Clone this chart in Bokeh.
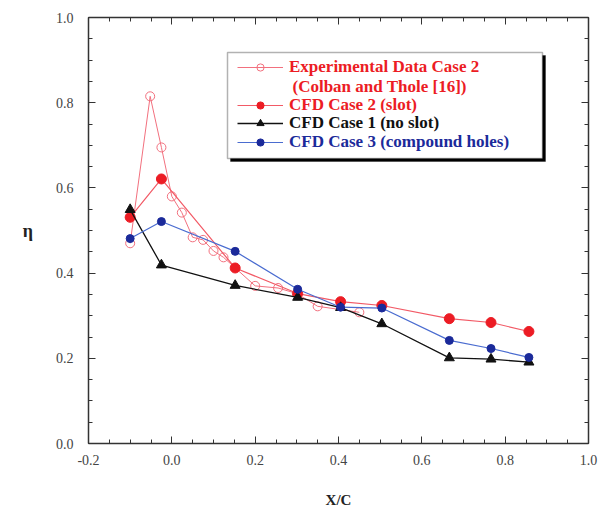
from bokeh.plotting import figure
from bokeh.models import (Range1d, LinearAxis, SingleIntervalTicker, Legend, LegendItem,
                          Label, BoxAnnotation, CustomJSTickFormatter, PrintfTickFormatter)
from bokeh.embed import file_html
from bokeh.resources import INLINE

# Data
exp_x = [-0.1, -0.052, -0.025, 0.0, 0.024, 0.05, 0.075, 0.1, 0.124, 0.2, 0.255, 0.3, 0.35, 0.45]
exp_y = [0.47, 0.815, 0.695, 0.58, 0.542, 0.484, 0.478, 0.452, 0.437, 0.37, 0.365, 0.352, 0.322, 0.308]
cfd_x = [-0.1, -0.025, 0.152, 0.302, 0.405, 0.504, 0.666, 0.766, 0.857]
cfd2_y = [0.531, 0.621, 0.412, 0.352, 0.333, 0.324, 0.293, 0.284, 0.263]
cfd1_y = [0.549, 0.419, 0.371, 0.343, 0.319, 0.281, 0.201, 0.198, 0.191]
cfd3_y = [0.481, 0.521, 0.451, 0.362, 0.320, 0.318, 0.242, 0.223, 0.202]

FONT = "Liberation Serif"
RED = "#ec1c24"
RED_LINE = "#f25a66"
PINK = "#f2707e"
BLACK = "#111111"
BLUE = "#1b2a9a"
BLUE_LINE = "#4a6cd0"

p = figure(width=609, height=512, output_backend="svg", toolbar_location=None,
           x_range=Range1d(-0.2, 1.0), y_range=Range1d(0.0, 1.0),
           min_border_left=88, min_border_right=21, min_border_top=17, min_border_bottom=69,
           x_axis_label="X/C", y_axis_label="η")
p.xgrid.visible = False
p.ygrid.visible = False
p.outline_line_color = None
p.background_fill_color = "white"
p.border_fill_color = "white"

def style_axis(ax, labels=True):
    ax.axis_line_color = "#333333"
    ax.axis_line_width = 1.5
    ax.major_tick_in = 7
    ax.major_tick_out = 0
    ax.minor_tick_in = 4
    ax.minor_tick_out = 0
    ax.major_tick_line_color = "#333333"
    ax.minor_tick_line_color = "#333333"
    ax.major_label_text_font = FONT
    ax.major_label_text_font_size = "14px"
    ax.major_label_text_color = "#444444"
    ax.axis_label_text_font = FONT
    ax.axis_label_text_font_style = "bold"
    ax.axis_label_text_color = "#222222"
    if labels:
        ax.formatter = PrintfTickFormatter(format="%.1f")
    else:
        ax.formatter = CustomJSTickFormatter(code='return ""')
        ax.major_label_standoff = 0

p.xaxis.ticker = SingleIntervalTicker(interval=0.2, num_minor_ticks=4)
p.yaxis.ticker = SingleIntervalTicker(interval=0.2, num_minor_ticks=4)
style_axis(p.xaxis[0])
style_axis(p.yaxis[0])
p.xaxis.major_label_standoff = 11
p.yaxis.major_label_standoff = 15
p.xaxis.axis_label_standoff = 24
p.xaxis.axis_label_text_font_size = "15px"
p.yaxis.axis_label_standoff = 20
p.yaxis.axis_label_text_font_size = "18px"
p.yaxis.axis_label_orientation = "horizontal"

top = LinearAxis(ticker=SingleIntervalTicker(interval=0.2, num_minor_ticks=4))
right = LinearAxis(ticker=SingleIntervalTicker(interval=0.2, num_minor_ticks=4))
style_axis(top, labels=False)
style_axis(right, labels=False)
p.add_layout(top, "above")
p.add_layout(right, "right")

# Series
r_exp_l = p.line(exp_x, exp_y, line_color=PINK, line_width=1)
r_exp_m = p.scatter(exp_x, exp_y, marker="circle", size=9, fill_color="white", fill_alpha=0.0,
                    line_color=PINK, line_width=1)
r2_l = p.line(cfd_x, cfd2_y, line_color=RED_LINE, line_width=1.2)
r2_m = p.scatter(cfd_x, cfd2_y, marker="circle", size=10, fill_color=RED, line_color=RED)
r1_l = p.line(cfd_x, cfd1_y, line_color=BLACK, line_width=1.3)
r1_m = p.scatter(cfd_x, cfd1_y, marker="triangle", size=10, fill_color=BLACK, line_color=BLACK)
r3_l = p.line(cfd_x, cfd3_y, line_color=BLUE_LINE, line_width=1.2)
r3_m = p.scatter(cfd_x, cfd3_y, marker="circle", size=8, fill_color=BLUE, line_color=BLUE)

# Legend box with shadow
shadow = BoxAnnotation(left=142, right=457, top=388, bottom=282,
                       left_units="screen", right_units="screen", top_units="screen", bottom_units="screen",
                       fill_color="black", fill_alpha=1.0, line_color="black")
box = BoxAnnotation(left=139, right=454, top=391, bottom=285,
                    left_units="screen", right_units="screen", top_units="screen", bottom_units="screen",
                    fill_color="white", fill_alpha=1.0, line_color="black", line_width=1.5)
p.add_layout(shadow)
p.add_layout(box)

entries = [
    ("Experimental Data Case 2", [r_exp_l, r_exp_m], RED, 366),
    ("CFD Case 2 (slot)", [r2_l, r2_m], RED, 328),
    ("CFD Case 1 (no slot)", [r1_l, r1_m], BLACK, 310),
    ("CFD Case 3 (compound holes)", [r3_l, r3_m], BLUE, 291),
]
for label, rends, col, vy in entries:
    lg = Legend(items=[LegendItem(label=label, renderers=rends)], location=(149, vy),
                background_fill_alpha=0, border_line_color=None, padding=0, margin=0, spacing=0,
                glyph_width=46, glyph_height=18, label_height=18, label_standoff=6,
                label_text_font=FONT, label_text_font_style="bold", label_text_font_size="17px",
                label_text_color=col)
    p.add_layout(lg)

p.add_layout(Label(x=204, y=357, x_units="screen", y_units="screen", text="(Colban and Thole [16])",
                   text_font=FONT, text_font_style="bold", text_font_size="17px",
                   text_color=RED, text_baseline="middle"))

open("out.html", "w").write(file_html(p, INLINE))
